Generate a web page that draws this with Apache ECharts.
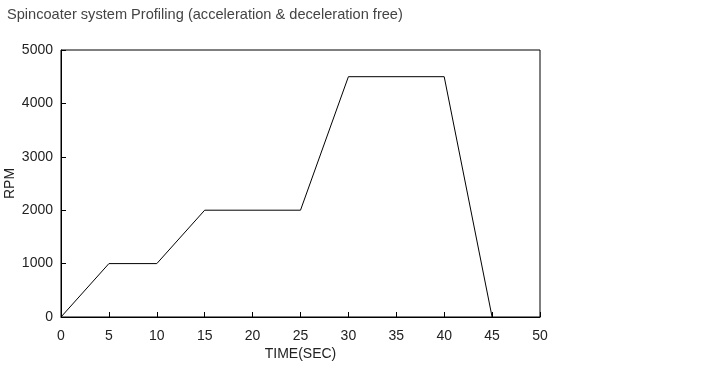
<!DOCTYPE html>
<html><head><meta charset="utf-8">
<script src="https://cdn.jsdelivr.net/npm/echarts@6/dist/echarts.min.js"></script>
<style>html,body{margin:0;padding:0;background:#fff}#c{width:706px;height:365px}</style>
</head><body><div id="c"></div>
<script>
const timeSec = [0, 5, 10, 15, 25, 30, 40, 45];
const rpm = [0, 1000, 1000, 2000, 2000, 4500, 4500, 0];
const xTicks = [0, 5, 10, 15, 20, 25, 30, 35, 40, 45, 50];
const yTicks = [0, 1000, 2000, 3000, 4000, 5000];

const chart = echarts.init(document.getElementById('c'), null, {renderer: 'canvas'});
const font = 'Liberation Sans, Arial, sans-serif';
chart.setOption({
  animation: false,
  title: {
    text: 'Spincoater system Profiling (acceleration & deceleration free)',
    left: 2, top: 2,
    textStyle: {fontFamily: font, fontWeight: 'normal', fontSize: 14.6, color: '#444'}
  },
  grid: {left: 61, top: 50, width: 479, height: 267, outerBoundsMode: 'none', containLabel: false,
         show: true, borderColor: '#000', borderWidth: 1, backgroundColor: 'transparent'},
  xAxis: {
    type: 'value', min: xTicks[0], max: xTicks[xTicks.length - 1], interval: 5,
    name: 'TIME(SEC)', nameLocation: 'middle', nameGap: 30, nameMoveOverlap: false,
    nameTextStyle: {fontFamily: font, fontSize: 14, color: '#222'},
    axisLine: {show: true, lineStyle: {color: '#000', width: 1}},
    axisTick: {show: true, inside: true, length: 5, lineStyle: {color: '#000'}},
    axisLabel: {fontFamily: font, fontSize: 14, color: '#222', margin: 12, formatter: v => String(v)},
    splitLine: {show: false}
  },
  yAxis: {
    type: 'value', min: yTicks[0], max: yTicks[yTicks.length - 1], interval: 1000,
    name: 'RPM', nameLocation: 'middle', nameGap: 44, nameRotate: 90, nameMoveOverlap: false,
    nameTextStyle: {fontFamily: font, fontSize: 14, color: '#222'},
    axisLine: {show: true, lineStyle: {color: '#000', width: 1}},
    axisTick: {show: true, inside: true, length: 5, lineStyle: {color: '#000'}},
    axisLabel: {fontFamily: font, fontSize: 14, color: '#222', margin: 8, formatter: v => String(v)},
    splitLine: {show: false}
  },
  series: [{
    type: 'line',
    data: timeSec.map((t, i) => [t, rpm[i]]),
    symbol: 'none',
    lineStyle: {color: '#000', width: 1}
  }]
});
</script></body></html>
